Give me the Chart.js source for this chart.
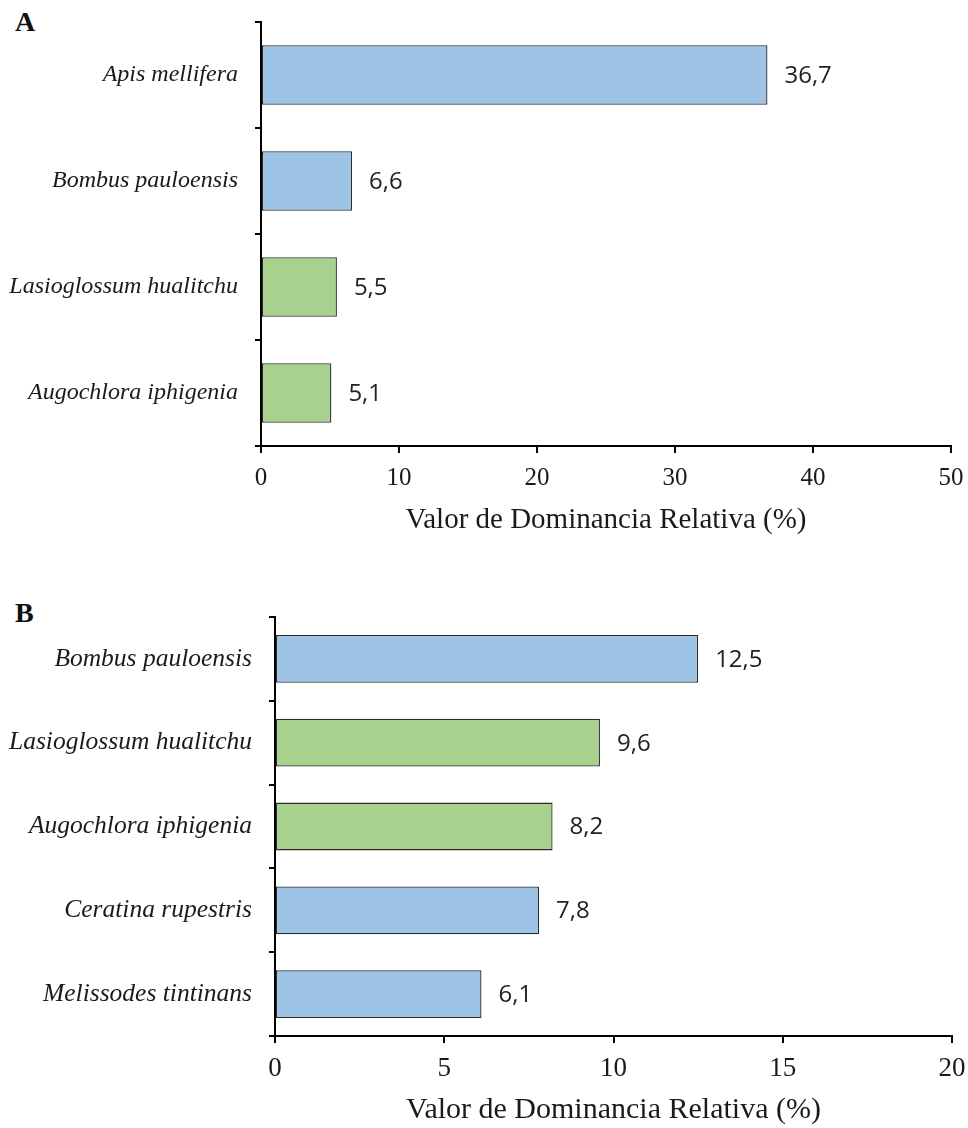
<!DOCTYPE html>
<html>
<head>
<meta charset="utf-8">
<script src="https://cdn.jsdelivr.net/npm/chart.js@4.4.1/dist/chart.umd.min.js"></script>
<style>
  html, body { margin: 0; padding: 0; background: #ffffff; }
  body { width: 968px; height: 1128px; position: relative; overflow: hidden; }
  .panel { position: absolute; left: 0; width: 968px; }
  .letter { position: absolute; font-family: "Liberation Serif", serif; font-weight: bold; font-size: 28px; color: #111; }
</style>
</head>
<body>
<div class="letter" style="left:15px; top:6px;">A</div>
<div class="panel" style="top:0px; height:560px;"><canvas id="chartA"></canvas></div>
<div class="letter" style="left:15px; top:597px;">B</div>
<div class="panel" style="top:590px; height:545px;"><canvas id="chartB"></canvas></div>
<script>
// Panel A: relative dominance value per species
const speciesA = ["Apis mellifera", "Bombus pauloensis", "Lasioglossum hualitchu", "Augochlora iphigenia"];
const valuesA = [36.7, 6.6, 5.5, 5.1];
const familiesA = ["Apidae", "Apidae", "Halictidae", "Halictidae"];
const ticksA = [0, 10, 20, 30, 40, 50];

// Panel B
const speciesB = ["Bombus pauloensis", "Lasioglossum hualitchu", "Augochlora iphigenia", "Ceratina rupestris", "Melissodes tintinans"];
const valuesB = [12.5, 9.6, 8.2, 7.8, 6.1];
const familiesB = ["Apidae", "Halictidae", "Halictidae", "Apidae", "Apidae"];
const ticksB = [0, 5, 10, 15, 20];

const axisTitle = "Valor de Dominancia Relativa (%)";
const familyColour = { Apidae: "#9DC3E6", Halictidae: "#A9D18E" };

const serif = "'Liberation Serif', 'Times New Roman', serif";
const sans = "'Open Sans', 'Noto Sans', sans-serif";

// Writes each bar's value (decimal comma) just past its end
const valueLabels = {
  id: "valueLabels",
  afterDatasetsDraw(chart) {
    const ctx = chart.ctx;
    const ds = chart.data.datasets[0];
    const meta = chart.getDatasetMeta(0);
    ctx.save();
    ctx.font = "24px " + sans;
    ctx.fillStyle = "#222222";
    ctx.textAlign = "left";
    ctx.textBaseline = "middle";
    meta.data.forEach((bar, i) => {
      const txt = ds.data[i].toFixed(1).replace(".", ",");
      ctx.fillText(txt, bar.x + 17, bar.y + 1);
    });
    ctx.restore();
  }
};

function makeChart(id, labels, values, families, tickValues, opts) {
  const maxVal = tickValues[tickValues.length - 1];
  const step = tickValues[1] - tickValues[0];
  return new Chart(document.getElementById(id), {
    type: "bar",
    data: {
      labels: labels,
      datasets: [{
        data: values,
        backgroundColor: families.map(f => familyColour[f]),
        borderColor: "#2b2b2b",
        borderWidth: 1.3,
        borderSkipped: false,
        categoryPercentage: 1,
        barPercentage: opts.barPct
      }]
    },
    options: {
      indexAxis: "y",
      responsive: true,
      maintainAspectRatio: false,
      animation: false,
      events: [],
      layout: { padding: { top: opts.padTop, right: opts.padRight, bottom: opts.padBottom, left: 0 } },
      plugins: { legend: { display: false }, tooltip: { enabled: false } },
      scales: {
        x: {
          type: "linear",
          min: 0,
          max: maxVal,
          afterBuildTicks(scale) { scale.ticks = tickValues.map(v => ({ value: v })); },
          afterFit(scale) {
            scale.height = 93;
            scale.paddingLeft = 0;
            scale.paddingRight = 0;
          },
          grid: { drawOnChartArea: false, drawTicks: true, tickLength: 7, tickWidth: 2, tickColor: "#000", lineWidth: 2 },
          border: { display: true, color: "#000", width: 2 },
          ticks: { color: "#1a1a1a", font: { family: serif, size: opts.tickSize }, padding: 10, stepSize: step, maxRotation: 0 },
          title: { display: true, text: axisTitle, color: "#1a1a1a", font: { family: serif, size: opts.titleSize }, padding: { top: 0, bottom: 1 } }
        },
        y: {
          afterFit(scale) {
            scale.width = opts.axisX;
            scale.paddingTop = 0;
            scale.paddingBottom = 0;
          },
          grid: { offset: true, drawOnChartArea: false, drawTicks: true, tickLength: 6, tickWidth: 2, tickColor: "#000", lineWidth: 2 },
          border: { display: true, color: "#000", width: 2 },
          ticks: { color: "#1a1a1a", font: { family: serif, size: opts.labelSize, style: "italic" }, padding: opts.labelPad }
        }
      }
    },
    plugins: [valueLabels]
  });
}

makeChart("chartA", speciesA, valuesA, familiesA, ticksA, {
  barPct: 0.56, padTop: 22, padRight: 17, padBottom: 21, axisX: 261,
  labelPad: 17, labelSize: 24, tickSize: 25, titleSize: 29
});
makeChart("chartB", speciesB, valuesB, familiesB, ticksB, {
  barPct: 0.57, padTop: 27, padRight: 16, padBottom: 6, axisX: 275,
  labelPad: 17, labelSize: 25.5, tickSize: 27, titleSize: 30
});
</script>
</body>
</html>
